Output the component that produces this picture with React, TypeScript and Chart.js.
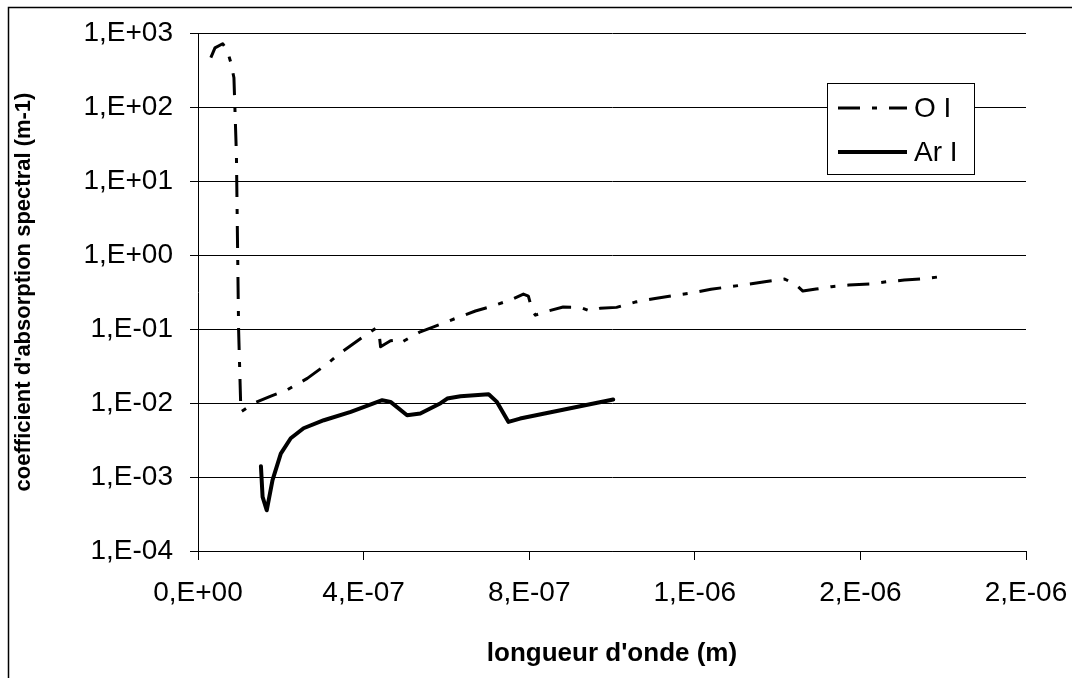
import React, { useEffect, useRef } from 'react';
import { Chart, registerables } from 'chart.js';

Chart.register(...registerables);

// ---- data (wavelength in m, absorption coefficient in m-1) ----
const oiWavelength = [
  3.1e-8, 4.1e-8, 5.95e-8, 7.0e-8, 7.95e-8, 8.68e-8, 9.28e-8, 9.81e-8, 1.036e-7,
  1.35e-7, 1.76e-7, 2.14e-7, 2.64e-7, 3.13e-7, 3.43e-7, 3.93e-7, 4.29e-7, 4.37e-7,
  4.41e-7, 4.65e-7, 4.81e-7, 4.89e-7, 5.37e-7, 5.69e-7, 6.22e-7, 6.7e-7, 7.01e-7,
  7.54e-7, 7.86e-7, 7.98e-7, 8.07e-7, 8.15e-7, 8.46e-7, 8.82e-7, 9.23e-7, 9.47e-7,
  9.71e-7, 1.011e-6, 1.056e-6, 1.104e-6, 1.146e-6, 1.186e-6, 1.239e-6, 1.284e-6,
  1.316e-6, 1.369e-6, 1.417e-6, 1.445e-6, 1.461e-6, 1.493e-6, 1.53e-6, 1.572e-6,
  1.622e-6, 1.664e-6, 1.706e-6, 1.754e-6, 1.792e-6,
];
const oiCoeff = [
  464, 630, 716, 594, 396, 248, 22.5, 0.0966, 0.0076,
  0.00993, 0.01236, 0.0149, 0.0215, 0.0342, 0.0468, 0.0746, 0.102, 0.0917,
  0.0574, 0.0692, 0.0707, 0.065, 0.0917, 0.107, 0.139, 0.175, 0.196,
  0.246, 0.297, 0.279, 0.18, 0.154, 0.175, 0.198, 0.196, 0.175,
  0.19, 0.196, 0.231, 0.259, 0.281, 0.303, 0.344, 0.373,
  0.393, 0.435, 0.474, 0.393, 0.326, 0.347, 0.373, 0.393,
  0.406, 0.435, 0.459, 0.478, 0.508,
];
const arWavelength = [
  1.52e-7, 1.56e-7, 1.66e-7, 1.8e-7, 2.0e-7, 2.24e-7, 2.55e-7, 3.04e-7, 3.69e-7,
  4.45e-7, 4.65e-7, 5.05e-7, 5.37e-7, 5.86e-7, 6.02e-7, 6.34e-7, 7.02e-7, 7.22e-7,
  7.5e-7, 7.78e-7, 1.003e-6,
];
const arCoeff = [
  1.4e-3, 5.4e-4, 3.55e-4, 9.1e-4, 2.07e-3, 3.34e-3, 4.56e-3, 5.85e-3, 7.59e-3,
  0.0109, 0.01035, 6.84e-3, 7.2e-3, 9.93e-3, 0.0115, 0.01236, 0.01315, 0.01035,
  5.55e-3, 6.16e-3, 0.01114,
];

const seriesLabels = ['O I', 'Ar I'];
const xTickValues = [0, 4e-7, 8e-7, 1.2e-6, 1.6e-6, 2e-6];
const xTickLabels = ['0,E+00', '4,E-07', '8,E-07', '1,E-06', '2,E-06', '2,E-06'];
const yTickValues = [1e-4, 1e-3, 1e-2, 1e-1, 1, 10, 100, 1000];
const yTickLabels = ['1,E-04', '1,E-03', '1,E-02', '1,E-01', '1,E+00', '1,E+01', '1,E+02', '1,E+03'];
const xTitle = "longueur d'onde (m)";
const yTitle = "coefficient d'absorption spectral (m-1)";

const FONT = "'Liberation Sans', Arial, sans-serif";

const framePlugin = {
  id: 'frame',
  beforeDraw(chart: any) {
    const ctx = chart.ctx;
    ctx.save();
    ctx.fillStyle = '#fff';
    ctx.fillRect(0, 0, chart.width, chart.height);
    ctx.restore();
  },
  afterDraw(chart: any) {
    const ctx = chart.ctx;
    ctx.save();
    ctx.strokeStyle = '#000';
    ctx.lineWidth = 1.5;
    ctx.beginPath();
    ctx.moveTo(8.5, chart.height + 5);
    ctx.lineTo(8.5, 7.5);
    ctx.lineTo(chart.width + 5, 7.5);
    ctx.stroke();
    ctx.restore();
  },
};

const boxLegendPlugin = {
  id: 'boxLegend',
  afterDraw(chart: any) {
    const ctx = chart.ctx;
    const left = 827, top = 83, right = 974, bottom = 174;
    ctx.save();
    ctx.fillStyle = '#fff';
    ctx.fillRect(left, top, right - left, bottom - top);
    ctx.strokeStyle = '#000';
    ctx.lineWidth = 1;
    ctx.strokeRect(left + 0.5, top + 0.5, right - left, bottom - top);
    const rows = [108, 152];
    chart.data.datasets.forEach((ds: any, i: number) => {
      const y = rows[i];
      ctx.beginPath();
      ctx.setLineDash(ds.borderDash || []);
      ctx.lineCap = 'butt';
      ctx.lineWidth = ds.borderWidth;
      ctx.strokeStyle = ds.borderColor;
      ctx.moveTo(838, y);
      ctx.lineTo(907, y);
      ctx.stroke();
      ctx.setLineDash([]);
      ctx.fillStyle = '#000';
      ctx.font = `28px ${FONT}`;
      ctx.textBaseline = 'middle';
      ctx.textAlign = 'left';
      ctx.fillText(ds.label, 914, y + 1);
    });
    ctx.restore();
  },
};

export default function App() {
  const canvasRef = useRef<HTMLCanvasElement | null>(null);

  useEffect(() => {
    const canvas = canvasRef.current;
    if (!canvas) return;
    const oiData = oiWavelength.map((x, i) => ({ x, y: oiCoeff[i] }));
    const arData = arWavelength.map((x, i) => ({ x, y: arCoeff[i] }));

    const chart = new Chart(canvas, {
      type: 'line',
      data: {
        datasets: [
          {
            label: seriesLabels[0],
            data: oiData,
            borderColor: '#000',
            backgroundColor: '#000',
            borderWidth: 3,
            borderDash: [22, 12, 5, 12],
            borderCapStyle: 'butt',
            borderJoinStyle: 'round',
            pointRadius: 0,
            fill: false,
            tension: 0,
          },
          {
            label: seriesLabels[1],
            data: arData,
            borderColor: '#000',
            backgroundColor: '#000',
            borderWidth: 4,
            borderCapStyle: 'round',
            borderJoinStyle: 'round',
            pointRadius: 0,
            fill: false,
            tension: 0,
          },
        ],
      },
      options: {
        animation: false,
        responsive: false,
        events: [],
        layout: { padding: { left: 0, top: 33, right: 46, bottom: 0 } },
        plugins: {
          legend: { display: false },
          tooltip: { enabled: false },
          title: { display: false },
        },
        scales: {
          x: {
            type: 'linear',
            min: 0,
            max: 2e-6,
            afterBuildTicks: (s: any) => {
              s.ticks = xTickValues.map((v) => ({ value: v }));
            },
            afterFit: (s: any) => {
              s.height = 127;
              s.paddingLeft = 0;
              s.paddingRight = 0;
            },
            ticks: {
              callback: (_v: any, i: number) => xTickLabels[i],
              font: { family: FONT, size: 28 },
              color: '#000',
              padding: 16,
              maxRotation: 0,
              autoSkip: false,
            },
            grid: { drawOnChartArea: false, drawTicks: true, tickLength: 9, color: '#000', lineWidth: 1 },
            border: { display: true, color: '#000', width: 1 },
            title: {
              display: true,
              text: xTitle,
              font: { family: FONT, size: 26, weight: 'bold' },
              color: '#000',
              padding: { top: 0, bottom: 9 },
            },
          },
          y: {
            type: 'logarithmic',
            min: 1e-4,
            max: 1e3,
            afterBuildTicks: (s: any) => {
              s.ticks = yTickValues.map((v) => ({ value: v }));
            },
            afterFit: (s: any) => {
              s.width = 198;
              s.paddingTop = 0;
              s.paddingBottom = 0;
            },
            ticks: {
              callback: (_v: any, i: number) => yTickLabels[i],
              font: { family: FONT, size: 28 },
              color: '#000',
              padding: 17,
              autoSkip: false,
            },
            grid: { drawOnChartArea: true, drawTicks: true, tickLength: 8, color: '#000', lineWidth: 1 },
            border: { display: true, color: '#000', width: 1 },
            title: {
              display: true,
              text: yTitle,
              font: { family: FONT, size: 22, weight: 'bold' },
              color: '#000',
              padding: { top: 11, bottom: 0 },
            },
          },
        },
      } as any,
      plugins: [framePlugin, boxLegendPlugin],
    });

    return () => {
      chart.destroy();
    };
  }, []);

  return (
    <div style={{ position: 'absolute', left: 0, top: 0, width: 1072, height: 678, background: '#fff' }}>
      <canvas ref={canvasRef} width={1072} height={678} style={{ width: 1072, height: 678 }} />
    </div>
  );
}
